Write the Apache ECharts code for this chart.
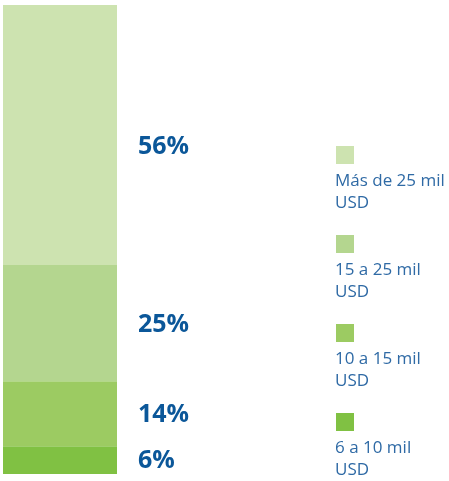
<!DOCTYPE html>
<html><head><meta charset="utf-8">
<script src="https://cdn.jsdelivr.net/npm/echarts@6/dist/echarts.min.js"></script>
<style>html,body{margin:0;padding:0;background:#fff}#c{width:449px;height:481px}</style>
</head><body><div id="c"></div>
<script>
// bottom to top
const categories = ["6 a 10 mil\nUSD", "10 a 15 mil\nUSD", "15 a 25 mil\nUSD", "Más de 25 mil\nUSD"];
const values = [6, 14, 25, 56];
const labels = ["6%", "14%", "25%", "56%"];
const colors = ["#80c143", "#9ccb62", "#b4d68f", "#cde3b0"];
const total = values.reduce((a, b) => a + b, 0);

const chart = echarts.init(document.getElementById('c'), null, {renderer: 'canvas'});
const series = values.map((v, i) => ({
  name: categories[i],
  type: 'bar',
  stack: 'all',
  barWidth: 114,
  data: [v],
  itemStyle: {color: colors[i]},
  label: {
    show: true, position: 'right', distance: 21,
    formatter: labels[i],
    color: '#0b5799', fontFamily: 'Open Sans', fontWeight: 'bold', fontSize: 25,
    offset: i === 3 ? [0, 12] : (i === 2 ? [0, 2] : [0, 1])
  },
  silent: true
}));

// legend drawn top-down (reverse order)
const legendItems = [];
const order = [3, 2, 1, 0];
order.forEach((idx, k) => {
  legendItems.push({type: 'rect', shape: {x: 336, y: 146 + 89 * k, width: 18, height: 18}, style: {fill: colors[idx]}});
  legendItems.push({type: 'text', x: 335, y: 170 + 89 * k, style: {
    text: categories[idx], fill: '#2f6aa5', font: '17px "Open Sans"', lineHeight: 22
  }});
});

chart.setOption({
  animation: false,
  grid: {left: 3, top: 5, width: 114, height: 469},
  xAxis: {type: 'category', data: [''], show: false},
  yAxis: {type: 'value', min: 0, max: total, show: false},
  series: series,
  graphic: legendItems
});
</script></body></html>
